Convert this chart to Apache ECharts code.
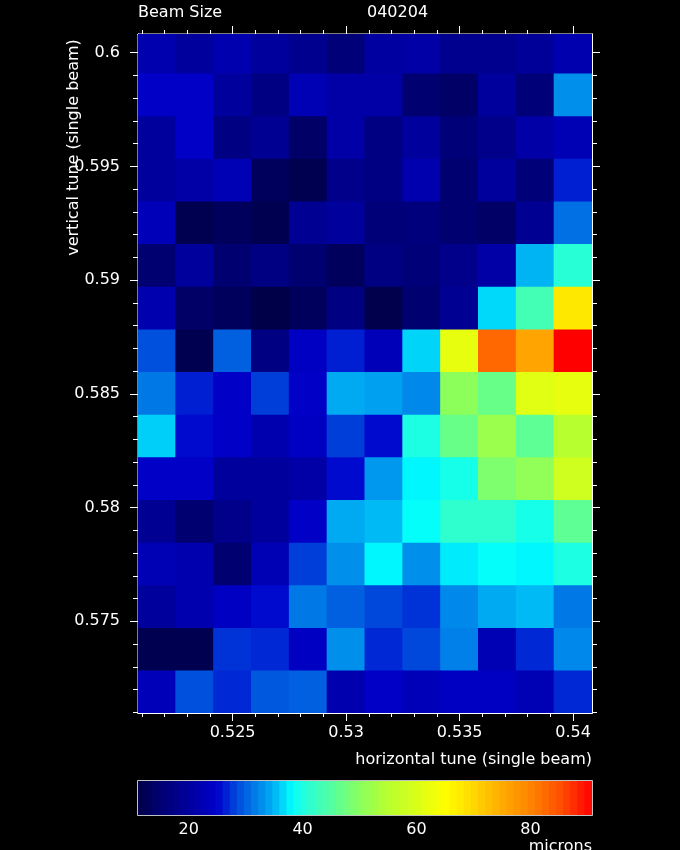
<!DOCTYPE html>
<html><head><meta charset="utf-8">
<script src="https://cdn.jsdelivr.net/npm/echarts@6/dist/echarts.min.js"></script>
<style>html,body{margin:0;padding:0;background:#000;}#c{width:680px;height:850px;}</style>
</head><body><div id="c"></div>
<script>
// horizontal tune (column centres) and vertical tune (row centres, top to bottom)
const xTunes = [0.521667, 0.523333, 0.525, 0.526667, 0.528333, 0.53, 0.531667, 0.533333, 0.535, 0.536667, 0.538333, 0.54];
const yTunes = [0.6, 0.598125, 0.59625, 0.594375, 0.5925, 0.590625, 0.58875, 0.586875, 0.585, 0.583125, 0.58125, 0.579375, 0.5775, 0.575625, 0.57375, 0.571875];
// beam size (microns), one row per vertical tune, top to bottom
const beamSize = [
  [22, 20, 22, 20, 18.5, 16, 20.5, 21, 18.5, 18.5, 19.5, 22],
  [24.5, 24.5, 20, 17, 22.5, 21, 21, 15, 14, 20, 16, 33],
  [20, 24.5, 17, 19, 14, 21, 17, 20, 16, 18, 21, 22.5],
  [20, 21, 22.5, 13, 12, 18, 17, 22, 15, 20, 16, 26.5],
  [23, 12, 13, 12, 19, 20, 16, 16.5, 15, 14, 19, 31],
  [15, 20, 15, 17, 15, 13, 17, 16, 18, 21, 35, 40.7],
  [22, 14, 13, 11.1, 13, 17, 11.5, 15, 19, 36.7, 43.5, 68],
  [29, 12, 30, 17, 24, 26.5, 23, 36.5, 62, 83, 76, 90.8],
  [31.5, 26.5, 24.5, 28, 24.5, 34.5, 34, 32.5, 50.5, 47, 61, 62],
  [36.3, 25.5, 24.5, 22, 24, 28, 25.5, 39.8, 47, 52, 46, 55],
  [24.5, 24.5, 20, 20, 21, 25.5, 33.5, 38, 39.5, 49, 51, 58.5],
  [19, 15, 18, 20, 24.5, 34.5, 35.3, 38.5, 41.5, 41.5, 39.5, 46],
  [22.5, 22, 15, 22.5, 28, 33, 38, 33, 37.5, 38.5, 38, 39.8],
  [20, 22, 24, 25.5, 31.5, 30, 28.5, 27.5, 32.5, 34.5, 35.3, 31.5],
  [12, 12, 27.5, 27, 24, 33, 27, 28.5, 32, 22.5, 27, 32.5],
  [23, 29, 27, 29.5, 30, 22, 24.5, 23, 24, 24, 22.5, 27]
];
// tick labels
const xMajor = [0.525, 0.53, 0.535, 0.54];
const xMinor = [0.521, 0.522, 0.523, 0.524, 0.526, 0.527, 0.528, 0.529, 0.531, 0.532, 0.533, 0.534, 0.536, 0.537, 0.538, 0.539];
const yMajor = [0.575, 0.58, 0.585, 0.59, 0.595, 0.6];
const yMinor = [0.571, 0.572, 0.573, 0.574, 0.576, 0.577, 0.578, 0.579, 0.581, 0.582, 0.583, 0.584, 0.586, 0.587, 0.588, 0.589, 0.591, 0.592, 0.593, 0.594, 0.596, 0.597, 0.598, 0.599];
const cbTicks = [20, 30, 40, 50, 60, 70, 80, 90];
const cbLabels = [20, 40, 60, 80];

const DX = 1 / 600, DY = 0.001875;
const X_MIN = 0.520833, X_MAX = 0.540833, Y_MIN = 0.57097, Y_MAX = 0.60082;
const CB_MIN = 11.1, CB_MAX = 90.8;

const stops = [[11.1,'#000048'],[15,'#000070'],[20,'#00009c'],[25,'#0000cc'],[27,'#0028d4'],[28.5,'#0048dc'],[30,'#0060e0'],[32,'#0080e8'],[34,'#00a0f0'],[36,'#00c8f8'],[38.3,'#00ffff'],[40,'#20ffe0'],[44,'#48ffb0'],[47,'#68ff88'],[50,'#88ff60'],[55,'#b8ff30'],[60,'#d8ff18'],[65,'#ffff00'],[70,'#ffd800'],[75,'#ffac00'],[80,'#ff8400'],[85,'#ff5400'],[90.8,'#ff0000']];
function hex2rgb(h){return [parseInt(h.substr(1,2),16),parseInt(h.substr(3,2),16),parseInt(h.substr(5,2),16)];}
function cmap(v){
  if (v <= stops[0][0]) return stops[0][1];
  for (let i = 1; i < stops.length; i++) {
    if (v <= stops[i][0]) {
      const a = hex2rgb(stops[i-1][1]), b = hex2rgb(stops[i][1]);
      const t = (v - stops[i-1][0]) / (stops[i][0] - stops[i-1][0]);
      return 'rgb(' + a.map((c, k) => Math.round(c + (b[k] - c) * t)).join(',') + ')';
    }
  }
  return stops[stops.length-1][1];
}
const N_COL = 200;
const colorList = [];
for (let i = 0; i < N_COL; i++) colorList.push(cmap(CB_MIN + i * (CB_MAX - CB_MIN) / (N_COL - 1)));

const cells = [];
beamSize.forEach((row, r) => row.forEach((v, c) => cells.push([xTunes[c], yTunes[r], v])));
const NB = 64, cbStep = (CB_MAX - CB_MIN) / NB;
const cbData = [];
for (let i = 0; i < NB; i++) { const v = CB_MIN + (i + 0.5) * cbStep; cbData.push([v, 0.5, v]); }

const W = '#ffffff';
const FONT = 'DejaVu Sans';
const fmt = v => String(Math.round(v * 1000) / 1000);
function clipTo(p0, p1, cs) {
  return echarts.graphic.clipRectByRect(
    {x: p0[0] - 0.5, y: p0[1] - 0.5, width: p1[0] - p0[0] + 1, height: p1[1] - p0[1] + 1},
    {x: cs.x, y: cs.y, width: cs.width, height: cs.height});
}
function xAx(pos, ticks, len, labels) {
  return {gridIndex: 0, type: 'value', position: pos, min: X_MIN, max: X_MAX,
    axisLine: {show: true, onZero: false, lineStyle: {color: W, width: 1}},
    axisTick: {show: true, customValues: ticks, length: len, lineStyle: {color: W}},
    axisLabel: labels ? {show: true, customValues: ticks, formatter: fmt, color: W, fontFamily: FONT, fontSize: 16, margin: 12} : {show: false},
    splitLine: {show: false}};
}
function yAx(pos, ticks, len, labels) {
  return {gridIndex: 0, type: 'value', position: pos, min: Y_MIN, max: Y_MAX,
    axisLine: {show: true, onZero: false, lineStyle: {color: W, width: 1}},
    axisTick: {show: true, customValues: ticks, length: len, lineStyle: {color: W}},
    axisLabel: labels ? {show: true, customValues: ticks, formatter: fmt, color: W, fontFamily: FONT, fontSize: 16, margin: 18} : {show: false},
    splitLine: {show: false}};
}
const chart = echarts.init(document.getElementById('c'), null, {renderer: 'canvas'});
chart.setOption({
  backgroundColor: '#000',
  animation: false,
  grid: [
    {left: 138, top: 34, width: 454, height: 679, show: true, borderColor: W, borderWidth: 1, backgroundColor: 'transparent'},
    {left: 138, top: 781, width: 454, height: 34, show: true, borderColor: W, borderWidth: 1.5, backgroundColor: 'transparent'}
  ],
  xAxis: [
    xAx('bottom', xMajor, 8, true), xAx('bottom', xMinor, 4, false),
    xAx('top', xMajor, 8, false), xAx('top', xMinor, 4, false),
    {gridIndex: 1, type: 'value', position: 'bottom', min: CB_MIN, max: CB_MAX,
      axisLine: {show: false, onZero: false},
      axisTick: {show: true, inside: true, customValues: cbTicks, length: 7, lineStyle: {color: W, width: 1.5}},
      axisLabel: {show: true, customValues: cbLabels, color: W, fontFamily: FONT, fontSize: 16, margin: 7},
      splitLine: {show: false}},
    {gridIndex: 1, type: 'value', position: 'top', min: CB_MIN, max: CB_MAX,
      axisLine: {show: false, onZero: false},
      axisTick: {show: true, inside: true, customValues: cbTicks, length: 7, lineStyle: {color: W, width: 1.5}},
      axisLabel: {show: false}, splitLine: {show: false}}
  ],
  yAxis: [
    yAx('left', yMajor, 8, true), yAx('left', yMinor, 5, false),
    yAx('right', yMajor, 8, false), yAx('right', yMinor, 5, false),
    {gridIndex: 1, type: 'value', min: 0, max: 1, show: false}
  ],
  visualMap: {type: 'continuous', show: false, min: CB_MIN, max: CB_MAX, dimension: 2, seriesIndex: [0, 1], inRange: {color: colorList}},
  series: [
    {type: 'custom', xAxisIndex: 0, yAxisIndex: 0, data: cells, z: 1,
      renderItem: function (params, api) {
        const x = api.value(0), y = api.value(1);
        const p0 = api.coord([x - DX / 2, y + DY / 2]);
        const p1 = api.coord([x + DX / 2, y - DY / 2]);
        const r = clipTo(p0, p1, params.coordSys);
        return r && {type: 'rect', shape: r, style: {fill: api.visual('color')}};
      }},
    {type: 'custom', xAxisIndex: 4, yAxisIndex: 4, data: cbData, z: 1,
      renderItem: function (params, api) {
        const v = api.value(0);
        const p0 = api.coord([v - cbStep / 2, 1]);
        const p1 = api.coord([v + cbStep / 2, 0]);
        const r = clipTo(p0, p1, params.coordSys);
        return r && {type: 'rect', shape: r, style: {fill: api.visual('color')}};
      }}
  ],
  graphic: [
    {type: 'text', x: 138, y: 12.5, style: {text: 'Beam Size', fill: W, font: '16px "DejaVu Sans"', align: 'left', verticalAlign: 'middle', textAlign: 'left', textVerticalAlign: 'middle'}},
    {type: 'text', x: 367, y: 12.5, style: {text: '040204', fill: W, font: '16px "DejaVu Sans"', align: 'left', verticalAlign: 'middle', textAlign: 'left', textVerticalAlign: 'middle'}},
    {type: 'text', x: 74, y: 147.5, rotation: Math.PI / 2, style: {text: 'vertical tune (single beam)', fill: W, font: '16px "DejaVu Sans"', align: 'center', verticalAlign: 'middle', textAlign: 'center', textVerticalAlign: 'middle'}},
    {type: 'text', x: 592, y: 760, style: {text: 'horizontal tune (single beam)', fill: W, font: '16px "DejaVu Sans"', align: 'right', verticalAlign: 'middle', textAlign: 'right', textVerticalAlign: 'middle'}},
    {type: 'text', x: 592, y: 847, style: {text: 'microns', fill: W, font: '16px "DejaVu Sans"', align: 'right', verticalAlign: 'middle', textAlign: 'right', textVerticalAlign: 'middle'}}
  ]
});
</script></body></html>
